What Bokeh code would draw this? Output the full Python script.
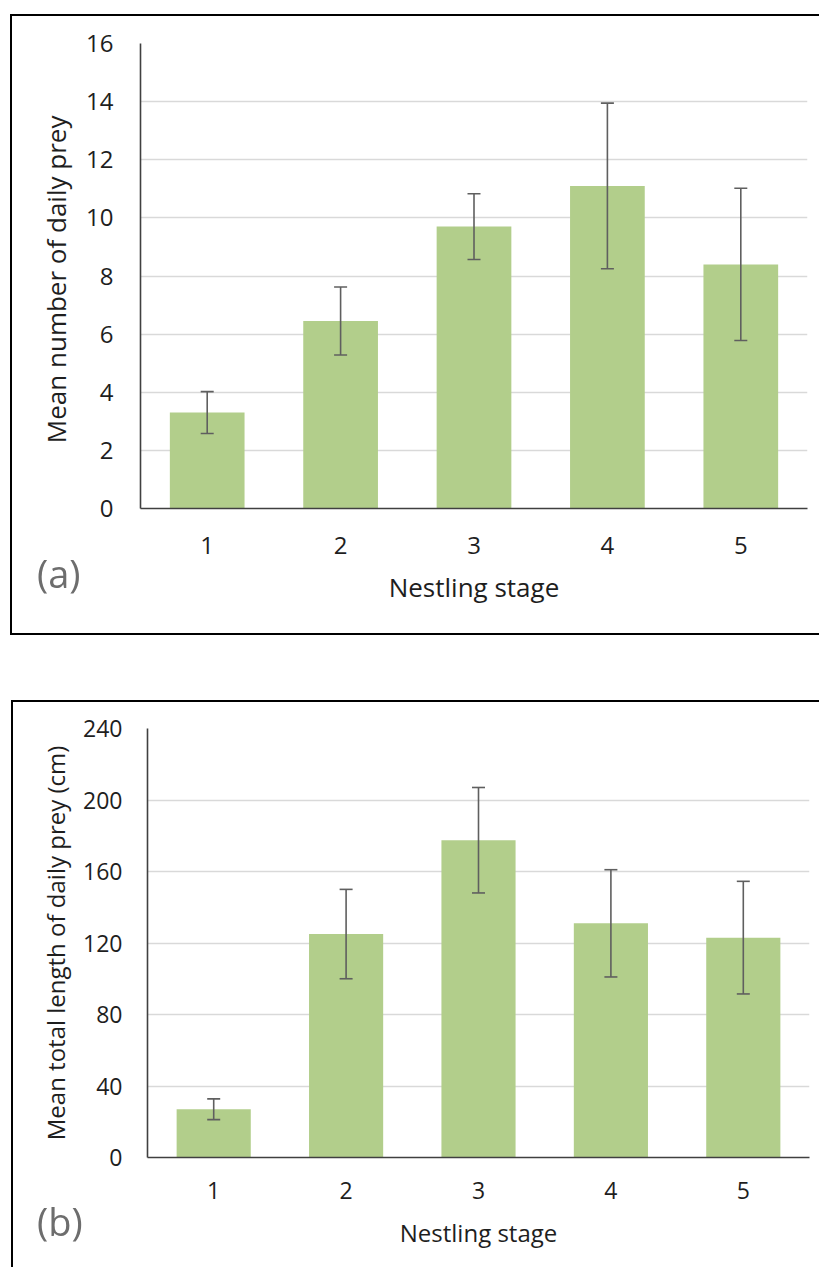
from bokeh.plotting import figure
from bokeh.models import ColumnDataSource, Range1d, FixedTicker, Whisker, TeeHead, Div
from bokeh.layouts import column
from bokeh.embed import file_html
from bokeh.resources import INLINE

# ---- data ----
stages = [1, 2, 3, 4, 5]
stage_labels = ["1", "2", "3", "4", "5"]

prey_mean = [3.3, 6.45, 9.7, 11.1, 8.4]
prey_err = [0.72, 1.17, 1.13, 2.85, 2.62]
prey_ticks = [0, 2, 4, 6, 8, 10, 12, 14, 16]

length_mean = [27, 125, 177.5, 131, 123]
length_err = [5.8, 25, 29.5, 30, 31.5]
length_ticks = [0, 40, 80, 120, 160, 200, 240]

FONT = "Open Sans"
BAR = "#b2ce8b"
ERR = "#5f5f5f"
AXIS = "#404040"
GRID = "#d9d9d9"
TXT = "#1e1e1e"


def make_panel(means, errs, yticks, ylabel, frame_w, frame_h,
               borders, tick_fs, title_fs, ystand, xstand, ytitle_stand, xtitle_stand):
    src = ColumnDataSource(dict(
        x=stages, top=means,
        upper=[m + e for m, e in zip(means, errs)],
        lower=[m - e for m, e in zip(means, errs)],
    ))
    p = figure(frame_width=frame_w, frame_height=frame_h,
               x_range=Range1d(0.5, 5.5), y_range=Range1d(yticks[0], yticks[-1]),
               output_backend="svg", toolbar_location=None, frame_align=False,
               min_border_left=borders[0], min_border_right=borders[1],
               min_border_top=borders[2], min_border_bottom=borders[3])
    p.outline_line_color = None
    p.background_fill_color = "white"
    p.border_fill_color = "white"

    p.vbar(x="x", top="top", bottom=0, width=0.56, source=src,
           fill_color=BAR, line_color=None)
    w = Whisker(base="x", upper="upper", lower="lower", source=src,
                line_color=ERR, line_width=1.6, level="overlay",
                upper_head=TeeHead(size=13, line_color=ERR, line_width=1.6),
                lower_head=TeeHead(size=13, line_color=ERR, line_width=1.6))
    p.add_layout(w)

    p.xaxis.ticker = FixedTicker(ticks=stages)
    p.xaxis.major_label_overrides = {s: l for s, l in zip(stages, stage_labels)}
    p.yaxis.ticker = FixedTicker(ticks=yticks)

    for ax in (p.xaxis, p.yaxis):
        ax.major_tick_line_color = None
        ax.minor_tick_line_color = None
        ax.major_tick_out = 0
        ax.major_tick_in = 0
        ax.axis_line_color = AXIS
        ax.axis_line_width = 1.6
        ax.major_label_text_font = FONT
        ax.major_label_text_font_size = f"{tick_fs}px"
        ax.major_label_text_color = TXT
        ax.axis_label_text_font = FONT
        ax.axis_label_text_font_size = f"{title_fs}px"
        ax.axis_label_text_font_style = "normal"
        ax.axis_label_text_color = TXT

    p.yaxis.major_label_standoff = ystand
    p.xaxis.major_label_standoff = xstand
    p.yaxis.axis_label = ylabel
    p.xaxis.axis_label = "Nestling stage"
    p.yaxis.axis_label_standoff = ytitle_stand
    p.xaxis.axis_label_standoff = xtitle_stand

    p.xgrid.visible = False
    p.ygrid.grid_line_color = GRID
    p.ygrid.grid_line_width = 1.5
    return p


pa = make_panel(prey_mean, prey_err, prey_ticks, "Mean number  of daily prey",
                667, 465, (140, 10, 43, 132),
                24, 26, 27, 28, 9, 12)

pb = make_panel(length_mean, length_err, length_ticks, "Mean total length of daily prey (cm)",
                662, 429, (147, 8, 88, 95),
                23, 24, 25, 24, 8, 14)

# panel frames and panel tags (page-positioned overlay)
TAG = ("position:fixed;font-family:'Open Sans';font-size:38px;line-height:38px;"
       "color:#6d6d6d;white-space:nowrap;z-index:6;")
BOX = "position:fixed;box-sizing:border-box;z-index:5;pointer-events:none;"
overlay_html = (
    f'<div style="{BOX}left:10px;top:14px;width:900px;height:621px;'
    'border-left:2px solid #000;border-top:2px solid #000;border-bottom:2px solid #000;"></div>'
    f'<div style="{BOX}left:11px;top:700px;width:900px;height:800px;'
    'border-left:2px solid #000;border-top:2px solid #000;"></div>'
    f'<div style="{TAG}left:37px;top:554px;">(a)</div>'
    f'<div style="{TAG}left:37px;top:1202px;">(b)</div>'
)
overlay = Div(text=overlay_html, width=0, height=0, margin=0)

layout = column(pa, pb, overlay)
open("out.html", "w").write(file_html(layout, INLINE))
